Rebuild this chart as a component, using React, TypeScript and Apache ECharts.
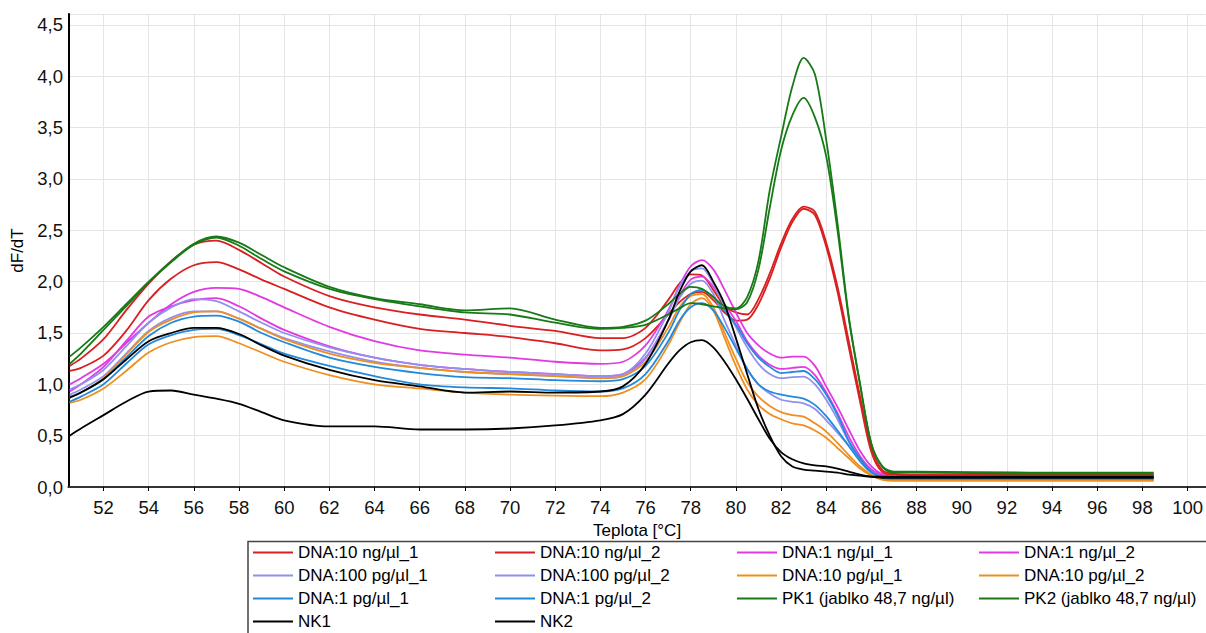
import React, { useEffect, useRef } from "react";
import * as echarts from "echarts";

const temps = [50.5, 51, 52, 53, 54, 55, 56, 57, 58, 59, 60, 62, 64, 66, 68, 70, 72, 74, 75, 76, 77, 77.5, 78, 78.5, 79, 79.5, 80, 80.5, 81, 81.5, 82, 82.5, 83, 83.5, 84, 84.5, 85, 85.5, 86, 86.5, 87, 88, 93, 98.5];

const dna10ng1 = [1.18,1.25,1.44,1.72,1.98,2.2,2.36,2.4,2.31,2.18,2.05, 1.86,1.75,1.68,1.63,1.57,1.52,1.45,1.45,1.55,1.82,1.98, 2.07,2.06,1.92,1.76,1.7,1.68,1.83,2.08,2.37,2.61,2.73,2.68,2.38,1.95,1.42,0.88,0.38,0.16,0.13, 0.12,0.12,0.12];
const dna10ng2 = [1.13,1.16,1.28,1.52,1.82,2.03,2.16,2.19,2.12,2.02,1.93, 1.75,1.63,1.54,1.5,1.46,1.4,1.33,1.34,1.45,1.68,1.8, 1.88,1.9,1.82,1.7,1.62,1.63,1.78,2.03,2.33,2.58,2.71,2.65,2.34,1.9,1.36,0.83,0.34,0.14,0.12, 0.11,0.11,0.11];
const dna1ng1 = [1.0,1.06,1.2,1.4,1.6,1.78,1.9,1.94,1.93,1.85,1.75, 1.56,1.42,1.33,1.29,1.26,1.22,1.2,1.22,1.38,1.72,1.96, 2.15,2.21,2.12,1.92,1.7,1.5,1.38,1.3,1.26,1.27,1.27,1.18,0.98,0.78,0.56,0.35,0.2,0.12,0.1, 0.1,0.1,0.1];
const dna1ng2 = [0.93,1.0,1.17,1.42,1.66,1.76,1.82,1.84,1.76,1.64,1.53, 1.37,1.26,1.19,1.15,1.12,1.1,1.08,1.1,1.26,1.62,1.86, 2.02,2.05,1.95,1.78,1.62,1.42,1.28,1.19,1.15,1.16,1.17,1.09,0.92,0.72,0.49,0.3,0.17,0.11,0.1, 0.1,0.1,0.1];
const dna100pg1 = [0.95,1.0,1.14,1.37,1.6,1.75,1.83,1.81,1.71,1.6,1.5, 1.36,1.26,1.19,1.15,1.12,1.1,1.08,1.1,1.3,1.7,1.95, 2.1,2.13,1.98,1.76,1.56,1.36,1.2,1.1,1.06,1.07,1.075,1.0,0.85,0.66,0.44,0.27,0.15,0.1,0.09, 0.09,0.09,0.09];
const dna100pg2 = [0.9,0.95,1.08,1.3,1.52,1.65,1.71,1.71,1.64,1.54,1.45, 1.32,1.22,1.16,1.12,1.1,1.08,1.06,1.08,1.25,1.62,1.84, 1.98,2.01,1.88,1.62,1.38,1.15,1.0,0.91,0.85,0.83,0.815,0.76,0.65,0.53,0.4,0.26,0.15,0.1,0.09, 0.09,0.09,0.09];
const dna10pg1 = [0.87,0.92,1.06,1.29,1.51,1.63,1.7,1.71,1.64,1.54,1.44, 1.3,1.21,1.16,1.12,1.1,1.08,1.06,1.08,1.22,1.55,1.75, 1.86,1.88,1.75,1.5,1.25,1.02,0.88,0.79,0.73,0.7,0.685,0.62,0.54,0.43,0.31,0.2,0.12,0.08,0.07, 0.07,0.07,0.07];
const dna10pg2 = [0.82,0.85,0.96,1.13,1.31,1.41,1.46,1.47,1.4,1.31,1.22, 1.09,1.0,0.96,0.92,0.9,0.89,0.885,0.92,1.05,1.38,1.6, 1.78,1.84,1.72,1.45,1.18,0.95,0.8,0.71,0.66,0.62,0.6,0.55,0.48,0.38,0.28,0.18,0.11,0.07,0.06, 0.06,0.06,0.06];
const dna1pg1 = [0.88,0.92,1.05,1.26,1.47,1.6,1.66,1.67,1.61,1.5,1.41, 1.26,1.17,1.11,1.07,1.06,1.04,1.03,1.05,1.18,1.5,1.72, 1.88,1.92,1.85,1.72,1.58,1.4,1.26,1.17,1.11,1.12,1.13,1.05,0.9,0.7,0.45,0.28,0.15,0.1,0.09, 0.09,0.09,0.09];
const dna1pg2 = [0.83,0.88,1.0,1.2,1.39,1.48,1.53,1.54,1.48,1.39,1.3, 1.18,1.08,1.0,0.97,0.96,0.94,0.93,0.96,1.1,1.42,1.62, 1.75,1.79,1.72,1.55,1.35,1.15,1.0,0.93,0.9,0.88,0.86,0.8,0.69,0.55,0.4,0.25,0.14,0.09,0.08, 0.08,0.08,0.08];
const pk1 = [1.27,1.36,1.56,1.78,2.0,2.2,2.37,2.44,2.38,2.26,2.14, 1.95,1.84,1.78,1.72,1.74,1.63,1.55,1.56,1.62,1.78,1.88, 1.95,1.93,1.85,1.76,1.74,1.85,2.2,2.89,3.41,3.9,4.18,4.02,3.38,2.57,1.66,1.0,0.42,0.2,0.15, 0.15,0.14,0.14];
const pk2 = [1.2,1.3,1.53,1.76,1.99,2.19,2.36,2.43,2.35,2.22,2.1, 1.93,1.83,1.76,1.7,1.68,1.6,1.54,1.55,1.58,1.68,1.74, 1.79,1.78,1.76,1.74,1.73,1.8,2.12,2.72,3.28,3.62,3.79,3.6,3.22,2.5,1.64,1.0,0.42,0.19,0.14, 0.14,0.13,0.13];
const nk1 = [0.5,0.57,0.7,0.83,0.93,0.94,0.9,0.86,0.81,0.73,0.65, 0.59,0.59,0.56,0.56,0.57,0.6,0.65,0.71,0.9,1.2,1.33, 1.41,1.43,1.36,1.22,1.05,0.86,0.66,0.47,0.34,0.27,0.23,0.21,0.2,0.18,0.15,0.12,0.1,0.09,0.09, 0.09,0.09,0.09];
const nk2 = [0.87,0.92,1.05,1.24,1.42,1.5,1.55,1.55,1.49,1.38,1.28, 1.14,1.04,0.98,0.92,0.93,0.92,0.93,0.98,1.2,1.62,1.9, 2.1,2.16,2.0,1.78,1.45,1.1,0.76,0.5,0.3,0.2,0.17,0.16,0.15,0.14,0.12,0.11,0.1,0.1,0.1, 0.1,0.1,0.1];

const xTicks = [52, 54, 56, 58, 60, 62, 64, 66, 68, 70, 72, 74, 76, 78, 80, 82, 84, 86, 88, 90, 92, 94, 96, 98, 100];

const RED = "#d92020";
const MAG = "#e23ae2";
const LAV = "#9090ee";
const ORA = "#ef8f1f";
const BLU = "#2289dc";
const GRN = "#177a17";
const BLK = "#000000";

const seriesDefs = [
  { name: "DNA:10 ng/µl_1", color: RED, values: dna10ng1 },
  { name: "DNA:10 ng/µl_2", color: RED, values: dna10ng2 },
  { name: "DNA:1 ng/µl_1", color: MAG, values: dna1ng1 },
  { name: "DNA:1 ng/µl_2", color: MAG, values: dna1ng2 },
  { name: "DNA:100 pg/µl_1", color: LAV, values: dna100pg1 },
  { name: "DNA:100 pg/µl_2", color: LAV, values: dna100pg2 },
  { name: "DNA:10 pg/µl_1", color: ORA, values: dna10pg1 },
  { name: "DNA:10 pg/µl_2", color: ORA, values: dna10pg2 },
  { name: "DNA:1 pg/µl_1", color: BLU, values: dna1pg1 },
  { name: "DNA:1 pg/µl_2", color: BLU, values: dna1pg2 },
  { name: "PK1 (jablko 48,7 ng/µl)", color: GRN, values: pk1 },
  { name: "PK2 (jablko 48,7 ng/µl)", color: GRN, values: pk2 },
  { name: "NK1", color: BLK, values: nk1 },
  { name: "NK2", color: BLK, values: nk2 },
];

const legendCols = [
  ["DNA:10 ng/µl_1", "DNA:100 pg/µl_1", "DNA:1 pg/µl_1", "NK1"],
  ["DNA:10 ng/µl_2", "DNA:100 pg/µl_2", "DNA:1 pg/µl_2", "NK2"],
  ["DNA:1 ng/µl_1", "DNA:10 pg/µl_1", "PK1 (jablko 48,7 ng/µl)"],
  ["DNA:1 ng/µl_2", "DNA:10 pg/µl_2", "PK2 (jablko 48,7 ng/µl)"],
];
const legendLeft = [253, 495, 737, 979];

const FONT = "'Liberation Sans', Arial, sans-serif";

export default function App() {
  const ref = useRef<HTMLDivElement>(null);
  useEffect(() => {
    if (!ref.current) return;
    const chart = echarts.init(ref.current, null, { renderer: "svg" });
    const xMin = 50.45;
    const xMax = 100.8;
    chart.setOption({
      animation: false,
      backgroundColor: "#ffffff",
      textStyle: { fontFamily: FONT },
      grid: { left: 68.5, right: 0, top: 14, bottom: 146, containLabel: false },
      xAxis: [
        {
          type: "value",
          min: xMin,
          max: xMax,
          name: "Teplota [°C]",
          nameLocation: "middle",
          nameGap: 27,
          nameTextStyle: { fontSize: 17, color: "#000", fontFamily: FONT },
          axisLine: { show: true, onZero: false, lineStyle: { color: "#000", width: 2 } },
          axisTick: { show: true, length: 4, customValues: xTicks, lineStyle: { color: "#000", width: 1 } },
          axisLabel: {
            customValues: xTicks,
            margin: 11,
            fontSize: 18.5,
            color: "#111",
            fontFamily: FONT,
            formatter: (v: number) => String(Math.round(v)),
          },
          splitLine: { show: true, lineStyle: { color: "#e4e4e4", width: 1 } },
        },
        {
          type: "value",
          position: "top",
          min: xMin,
          max: xMax,
          axisLine: { show: true, lineStyle: { color: "#444", width: 1.5 } },
          axisTick: { show: false },
          axisLabel: { show: false },
          splitLine: { show: false },
        },
      ],
      yAxis: {
        type: "value",
        min: 0,
        max: 4.607,
        interval: 0.5,
        name: "dF/dT",
        nameLocation: "middle",
        nameGap: 43,
        nameTextStyle: { fontSize: 17, color: "#000", fontFamily: FONT },
        axisLine: { show: true, lineStyle: { color: "#000", width: 2 } },
        axisTick: { show: false },
        axisLabel: {
          margin: 5.5,
          fontSize: 18.5,
          color: "#111",
          fontFamily: FONT,
          showMaxLabel: false,
          formatter: (v: number) => v.toFixed(1).replace(".", ","),
        },
        splitLine: { show: true, lineStyle: { color: "#e4e4e4", width: 1 } },
      },
      legend: legendCols.map((col, i) => ({
        data: col,
        orient: "vertical",
        left: legendLeft[i],
        top: 544,
        width: 240,
        height: 140,
        padding: 0,
        itemGap: 6,
        itemWidth: 40,
        itemHeight: 2,
        icon: "rect",
        selectedMode: false,
        textStyle: { fontSize: 17, color: "#000", fontFamily: FONT },
      })),
      graphic: [
        {
          type: "rect",
          shape: { x: 248, y: 541.5, width: 980, height: 110 },
          style: { fill: "none", stroke: "#444", lineWidth: 1.5 },
          silent: true,
        },
      ],
      series: seriesDefs.map((s) => ({
        type: "line",
        name: s.name,
        data: temps.map((t, i) => [t, s.values[i]]),
        smooth: 0.3,
        symbol: "none",
        showSymbol: false,
        color: s.color,
        lineStyle: { color: s.color, width: 1.8 },
        itemStyle: { color: s.color },
        emphasis: { disabled: true },
      })),
    });
    return () => chart.dispose();
  }, []);
  return (
    <div
      ref={ref}
      style={{ position: "absolute", left: 0, top: 0, width: 1206, height: 633, background: "#fff" }}
    />
  );
}
